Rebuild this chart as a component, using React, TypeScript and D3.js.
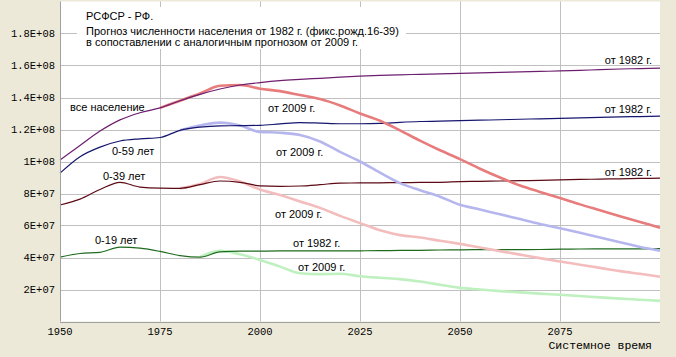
import React from "react";
import * as d3 from "d3";

const years = [1950,1955,1960,1965,1970,1975,1980,1985,1990,1995,2000,2005,2010,2015,2020,2025,2030,2035,2040,2045,2050,2055,2060,2065,2070,2075,2080,2085,2090,2095,2100];

// values in millions (null = no data in that forecast)
const total1982 = [101,110,119,126,130.5,133.5,138,142,145.3,147.8,149.3,150.5,151.3,152,152.7,153.3,153.8,154.2,154.5,154.8,155.1,155.4,155.7,156,156.3,156.6,157,157.4,157.8,158.1,158.4];
const total2009 = [null,null,null,null,null,133.5,138,142.5,147.3,147.8,145.5,144,141.5,139,135,130,125.5,119.5,113,107,101.5,95.5,90,85,81,77.2,73.2,69.5,65.8,62.2,58.6];
const age59_1982 = [92.7,103,109,112.8,114.2,115,119.5,121.5,122.3,122.4,122.6,123.5,124.3,124,123.6,123.6,123.8,124.5,125,125.2,125.5,125.8,126.1,126.4,126.7,127,127.3,127.6,127.9,128.1,128.3];
const age59_2009 = [null,null,null,null,null,null,119.5,122.5,124.3,122.5,118.5,118,116.5,112.5,106,100,93,86.5,82,78,73,70,67,64,61,58.3,55.5,52.5,49.5,46.6,44.3];
const age39_1982 = [72.8,76.5,82.5,87,84,83.3,83.2,85.5,87.8,87,84.8,84.5,84.7,85.5,86.5,86.6,86.7,86.8,86.9,87,87.4,87.6,87.8,88,88.2,88.5,88.8,89,89.2,89.4,89.6];
const age39_2009 = [null,null,null,null,null,null,83.2,86,90.3,87.5,82.5,79,75,71,66,61.5,57,54,52.5,50.5,48.5,46.3,44,41.8,39.6,37.5,35.5,33.5,31.5,29.8,28];
const age19_1982 = [40.2,42.5,43.2,46.5,45.8,43.8,41.2,40.2,43.5,44,44,44.1,44.2,44.2,44.2,44.2,44.3,44.4,44.5,44.7,44.8,44.9,44.9,44.9,45,45.2,45.3,45.4,45.4,45.4,45.5];
const age19_2009 = [null,null,null,null,null,null,null,40.3,44.2,42,38.5,34.3,30.2,29.6,29.8,28.3,27.3,26.5,25,23,21,20,19,18.2,17.4,16.7,15.9,15.1,14.3,13.6,12.9];

const yTicks = [2e7,4e7,6e7,8e7,1e8,1.2e8,1.4e8,1.6e8,1.8e8];
const yTickLabels = ["2E+07","4E+07","6E+07","8E+07","1E+08","1.2E+08","1.4E+08","1.6E+08","1.8E+08"];
const xTicks = [1950,1975,2000,2025,2050,2075];
const xTickLabels = ["1950","1975","2000","2025","2050","2075"];

const titleLines = ["РСФСР - РФ.","Прогноз численности населения от 1982 г. (фикс.рожд.16-39)","в сопоставлении с аналогичным прогнозом от 2009 г."];
const axisTitle = "Системное время";

const labelTexts = ["все население","0-59 лет","0-39 лет","0-19 лет","от 2009 г.","от 2009 г.","от 2009 г.","от 1982 г.","от 2009 г.","от 1982 г.","от 1982 г.","от 1982 г."];
const labelYears = [1952.5,1963,1960.75,1958.75,2002,2004,2003.75,2008.25,2009.5,2098,2098,2098];
const labelValues = [131.6,104.1,88.4,48.4,130.9,103.4,64.7,46.6,31.6,160.9,130.3,90.9];
const labelAnchors = ["start","start","start","start","start","start","start","start","start","end","end","end"];

const seriesDefs = [
  { data: age19_2009, color: "#bff0bf", w: 2.6 },
  { data: age19_1982, color: "#1e6b1e", w: 1.2 },
  { data: age39_2009, color: "#f3bdbd", w: 2.6 },
  { data: age39_1982, color: "#5c0a14", w: 1.2 },
  { data: age59_2009, color: "#b6b6ee", w: 2.6 },
  { data: age59_1982, color: "#16166e", w: 1.2 },
  { data: total2009, color: "#e87c7c", w: 2.6 },
  { data: total1982, color: "#6e1e6e", w: 1.2 },
];

export default function App() {
  const W = 676, H = 357;
  const x = d3.scaleLinear().domain([1950, 2100]).range([60, 660]);
  const y = d3.scaleLinear().domain([0, 2e8]).range([321.5, 1.5]);
  const line = d3.line<number | null>()
    .defined((d) => d != null)
    .x((_, i) => x(years[i]))
    .y((d) => y((d as number) * 1e6))
    .curve(d3.curveMonotoneX);
  const mono = "'Liberation Mono', 'DejaVu Sans Mono', monospace";
  const sans = "'Liberation Sans', Arial, sans-serif";
  return (
    <svg width={W} height={H} style={{ position: "absolute", left: 0, top: 0 }}>
      <rect x={0} y={0} width={W} height={H} fill="#ece9d8" />
      <rect x={x(1950)} y={y(2e8)} width={x(2100) - x(1950)} height={y(0) - y(2e8)} fill="#ffffff" />
      {yTicks.map((t) => (
        <line key={"gy" + t} x1={x(1950)} x2={x(2100)} y1={Math.round(y(t)) + 0.5} y2={Math.round(y(t)) + 0.5} stroke="#c0c0c0" strokeWidth={1} />
      ))}
      {xTicks.slice(1).map((t) => (
        <line key={"gx" + t} x1={Math.round(x(t)) + 0.5} x2={Math.round(x(t)) + 0.5} y1={y(2e8)} y2={y(0)} stroke="#c0c0c0" strokeWidth={1} />
      ))}
      <rect x={77} y={7} width={329} height={42} fill="#ffffff" />
      {titleLines.map((t, i) => (
        <text key={"t" + i} x={86} y={[19.5, 34.5, 45.5][i]} fontFamily={sans} fontSize={11} fill="#000">{t}</text>
      ))}
      {seriesDefs.map((s, i) => (
        <path key={"s" + i} d={line(s.data) || ""} fill="none" stroke={s.color} strokeWidth={s.w} strokeLinejoin="round" />
      ))}
      <line x1={60.5} x2={60.5} y1={y(2e8)} y2={y(0)} stroke="#a0a0a0" />
      <line x1={60} x2={660} y1={Math.round(y(0)) + 0.5} y2={Math.round(y(0)) + 0.5} stroke="#a0a0a0" />
      {yTicks.map((t, i) => (
        <text key={"ly" + t} x={55} y={y(t)} dy="0.35em" textAnchor="end" fontFamily={mono} fontSize={10.5} fill="#000">{yTickLabels[i]}</text>
      ))}
      {xTicks.map((t, i) => (
        <text key={"lx" + t} x={x(t)} y={334.5} textAnchor="middle" fontFamily={mono} fontSize={10.5} fill="#000">{xTickLabels[i]}</text>
      ))}
      <text x={652} y={349} textAnchor="end" fontFamily={mono} fontSize={11.5} fill="#000">{axisTitle}</text>
      {labelTexts.map((t, i) => (
        <text key={"lb" + i} x={x(labelYears[i])} y={y(labelValues[i] * 1e6)} textAnchor={labelAnchors[i]} fontFamily={sans} fontSize={11} fill="#000">{t}</text>
      ))}
    </svg>
  );
}
